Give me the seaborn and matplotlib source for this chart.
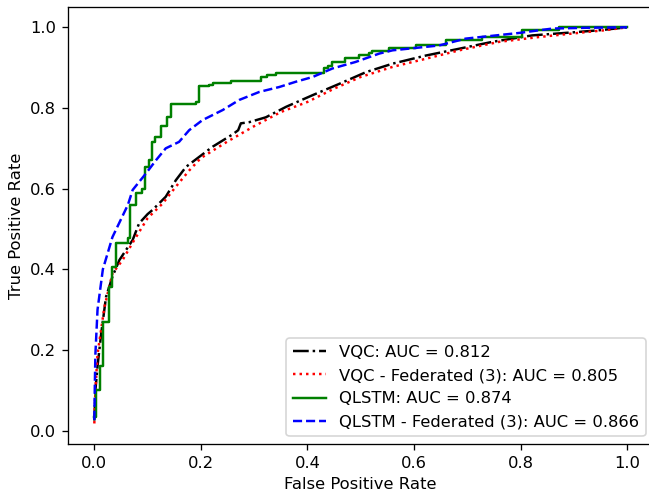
import matplotlib
matplotlib.use("Agg")
import matplotlib.pyplot as plt
import seaborn as sns

# VQC
fpr_vqc = [0.0, 0.002, 0.006, 0.013, 0.022, 0.034, 0.047, 0.072, 0.084, 0.1, 0.109, 0.134, 0.153,
           0.172, 0.197, 0.222, 0.26, 0.27, 0.275, 0.291, 0.322, 0.36, 0.41, 0.46, 0.51, 0.56,
           0.622, 0.685, 0.747, 0.822, 0.903, 0.95, 1.0]
tpr_vqc = [0.025, 0.10, 0.16, 0.242, 0.332, 0.382, 0.423, 0.473, 0.514, 0.537, 0.547, 0.58, 0.621,
           0.654, 0.679, 0.704, 0.735, 0.745, 0.762, 0.765, 0.777, 0.803, 0.832, 0.86, 0.889, 0.91,
           0.93, 0.947, 0.964, 0.98, 0.988, 0.993, 1.0]

# VQC - Federated (3)
fpr_vqc_fed = [0.0, 0.002, 0.006, 0.019, 0.034, 0.053, 0.075, 0.1, 0.128, 0.153, 0.178, 0.2, 0.25,
               0.3, 0.35, 0.4, 0.45, 0.5, 0.56, 0.622, 0.685, 0.76, 0.835, 0.922, 0.96, 1.0]
tpr_vqc_fed = [0.018, 0.10, 0.19, 0.307, 0.39, 0.423, 0.473, 0.527, 0.563, 0.605, 0.645, 0.676, 0.717,
               0.755, 0.79, 0.815, 0.848, 0.877, 0.902, 0.922, 0.943, 0.964, 0.976, 0.988, 0.993, 1.0]

# QLSTM (step curve)
fpr_qlstm = [0.0, 0.003, 0.011, 0.017, 0.027, 0.034, 0.041, 0.063, 0.067, 0.078,
             0.09, 0.096, 0.103, 0.108, 0.113, 0.125, 0.136, 0.144, 0.191, 0.197,
             0.216, 0.222, 0.256, 0.313, 0.325, 0.341, 0.431, 0.438, 0.447, 0.47,
             0.497, 0.516, 0.522, 0.553, 0.604, 0.66, 0.728, 0.803, 0.872, 1.0]
tpr_qlstm = [0.035, 0.10, 0.16, 0.27, 0.357, 0.407, 0.466, 0.477, 0.56, 0.59,
             0.60, 0.655, 0.672, 0.715, 0.727, 0.755, 0.778, 0.809, 0.816, 0.854,
             0.858, 0.862, 0.868, 0.876, 0.882, 0.888, 0.899, 0.905, 0.915, 0.925,
             0.932, 0.936, 0.941, 0.948, 0.956, 0.968, 0.976, 0.994, 1.0, 1.0]

# QLSTM - Federated (3)
fpr_qlstm_fed = [0.0, 0.001, 0.002, 0.006, 0.016, 0.034, 0.063, 0.072, 0.097, 0.116, 0.134, 0.159,
                 0.178, 0.203, 0.241, 0.272, 0.31, 0.347, 0.378, 0.41, 0.447, 0.49, 0.535, 0.56,
                 0.647, 0.697, 0.797, 0.86, 0.93, 1.0]
tpr_qlstm_fed = [0.027, 0.12, 0.19, 0.30, 0.40, 0.48, 0.56, 0.597, 0.638, 0.671, 0.70, 0.716,
                 0.745, 0.77, 0.795, 0.82, 0.84, 0.852, 0.865, 0.877, 0.898, 0.914, 0.935, 0.943,
                 0.955, 0.972, 0.986, 0.997, 0.999, 1.0]

labels = ["VQC: AUC = 0.812", "VQC - Federated (3): AUC = 0.805",
          "QLSTM: AUC = 0.874", "QLSTM - Federated (3): AUC = 0.866"]

fig = plt.figure(figsize=(649 / 118, 494 / 118), dpi=118)
ax = fig.add_axes([0.1043, 0.1006, 0.903, 0.8846])

sns.lineplot(x=fpr_vqc, y=tpr_vqc, ax=ax, sort=False, estimator=None,
             color="k", linestyle="-.", linewidth=1.5, label=labels[0])
sns.lineplot(x=fpr_vqc_fed, y=tpr_vqc_fed, ax=ax, sort=False, estimator=None,
             color="r", linestyle=":", linewidth=1.5, label=labels[1])
sns.lineplot(x=fpr_qlstm, y=tpr_qlstm, ax=ax, sort=False, estimator=None,
             color="g", linestyle="-", linewidth=1.5, drawstyle="steps-post", label=labels[2])
sns.lineplot(x=fpr_qlstm_fed, y=tpr_qlstm_fed, ax=ax, sort=False, estimator=None,
             color="b", linestyle="--", linewidth=1.5, label=labels[3])

ax.set_xlim(-0.05, 1.05)
ax.set_ylim(-0.0336, 1.0496)
ax.set_xlabel("False Positive Rate")
ax.set_ylabel("True Positive Rate")
ax.legend(loc="lower right")

fig.savefig("out.png", dpi=118)
